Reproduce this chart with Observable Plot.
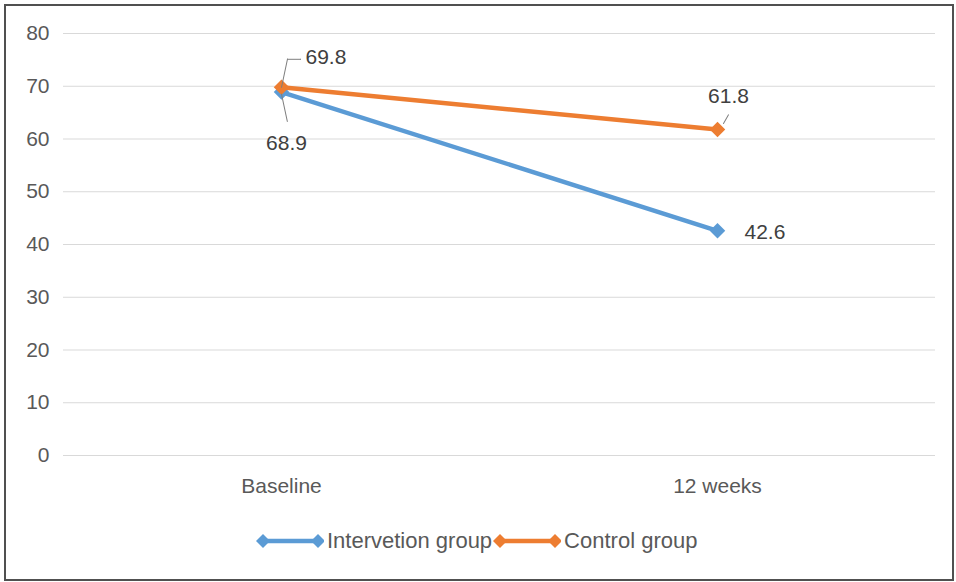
<!DOCTYPE html>
<html>
<head>
<meta charset="utf-8">
<script src="https://cdn.jsdelivr.net/npm/d3@7"></script>
<script src="https://cdn.jsdelivr.net/npm/@observablehq/plot@0.6"></script>
<style>
  body { margin: 0; background: #fff; }
  #wrap { position: relative; width: 956px; height: 582px; font-family: "Liberation Sans", Arial, sans-serif; color: #595959; }
  #frame { position: absolute; left: 4px; top: 4px; width: 950px; height: 577px; border: 2px solid #505050; box-sizing: border-box; }
  #chart { position: absolute; left: 0; top: 0; }
  #legend { position: absolute; left: 256px; top: 528px; display: flex; align-items: center; font-size: 22px; white-space: nowrap; }
  #legend .item { display: flex; align-items: center; }
  #legend svg { display: block; }
</style>
</head>
<body>
<div id="wrap">
  <div id="frame"></div>
  <div id="chart"></div>
  <div id="legend"></div>
</div>
<script>
const categories = ["Baseline", "12 weeks"];
const seriesNames = ["Intervetion group", "Control group"];
const seriesColors = ["#5b9bd5", "#ed7d31"];
const interventionValues = [68.9, 42.6];
const controlValues = [69.8, 61.8];
const yTicks = [0, 10, 20, 30, 40, 50, 60, 70, 80];

const rows = [];
categories.forEach((c, i) => rows.push({cat: c, value: interventionValues[i], series: seriesNames[0]}));
categories.forEach((c, i) => rows.push({cat: c, value: controlValues[i], series: seriesNames[1]}));
const interRows = rows.filter(d => d.series === seriesNames[0]);
const ctrlRows = rows.filter(d => d.series === seriesNames[1]);

// label placement (pixel offsets from each point)
const labelStyle = [
  {series: seriesNames[0], cat: categories[0], dx: 5, dy: 51, anchor: "middle"},
  {series: seriesNames[0], cat: categories[1], dx: 27, dy: 1, anchor: "start"},
  {series: seriesNames[1], cat: categories[0], dx: 24, dy: -30, anchor: "start"},
  {series: seriesNames[1], cat: categories[1], dx: 11, dy: -33, anchor: "middle"}
];
const labels = labelStyle.map(s => ({...s, value: rows.find(r => r.series === s.series && r.cat === s.cat).value}));
const byKey = (s, c) => labels.filter(d => d.series === s && d.cat === c);

const textOpts = {fill: "#404040", fontSize: 21, text: d => d.value.toFixed(1), x: "cat", y: "value"};
const leaderOpts = {x: "cat", y: "value", stroke: "#7f7f7f", strokeWidth: 1, r: 0, anchor: "start"};

const marksText = labels.map(l => Plot.text([l], {...textOpts, dx: l.dx, dy: l.dy, textAnchor: l.anchor}));
const plot = Plot.plot({
  width: 956,
  height: 510,
  marginTop: 33,
  marginBottom: 55,
  marginLeft: 63,
  marginRight: 21,
  style: {fontFamily: "Liberation Sans, Arial, sans-serif", fontSize: "21px", color: "#595959", background: "transparent", overflow: "visible"},
  x: {type: "point", domain: categories, padding: 0.5, tickSize: 0, tickPadding: 23, label: null},
  y: {domain: [0, 80], ticks: yTicks, tickSize: 0, tickPadding: 14, label: null},
  color: {domain: seriesNames, range: seriesColors},
  marks: [
    Plot.ruleY(yTicks, {stroke: "#d9d9d9", strokeWidth: 1}),
    Plot.line(interRows, {x: "cat", y: "value", stroke: "series", strokeWidth: 4.5}),
    Plot.dot(interRows, {x: "cat", y: "value", fill: "series", symbol: "diamond2", r: 7}),
    Plot.line(ctrlRows, {x: "cat", y: "value", stroke: "series", strokeWidth: 4.5}),
    Plot.dot(ctrlRows, {x: "cat", y: "value", fill: "series", symbol: "diamond2", r: 7}),
    // leader lines
    Plot.vector(byKey(seriesNames[1], categories[0]), {...leaderOpts, rotate: 12, length: 29}),
    Plot.vector(byKey(seriesNames[1], categories[0]), {...leaderOpts, dx: 6, dy: -28, rotate: 90, length: 13}),
    Plot.vector(byKey(seriesNames[0], categories[0]), {...leaderOpts, dy: 2, rotate: 168, length: 28}),
    Plot.vector(byKey(seriesNames[1], categories[1]), {...leaderOpts, dx: 6, dy: -6, rotate: 30, length: 10}),
    ...marksText
  ]
});
document.getElementById("chart").appendChild(plot);

const legend = d3.select("#legend");
seriesNames.forEach((name, i) => {
  const item = legend.append("div").attr("class", "item");
  const svg = item.append("svg").attr("width", 68).attr("height", 20);
  svg.append("line").attr("x1", 7).attr("x2", 62).attr("y1", 10).attr("y2", 10)
    .attr("stroke", seriesColors[i]).attr("stroke-width", 4.5);
  [7, 62].forEach(cx => {
    svg.append("path").attr("d", `M${cx},${10 - 7}L${cx + 7},10L${cx},${10 + 7}L${cx - 7},10Z`).attr("fill", seriesColors[i]);
  });
  item.append("span").text(name).style("margin-left", "3px").style("margin-right", "1px");
});
</script>
</body>
</html>
